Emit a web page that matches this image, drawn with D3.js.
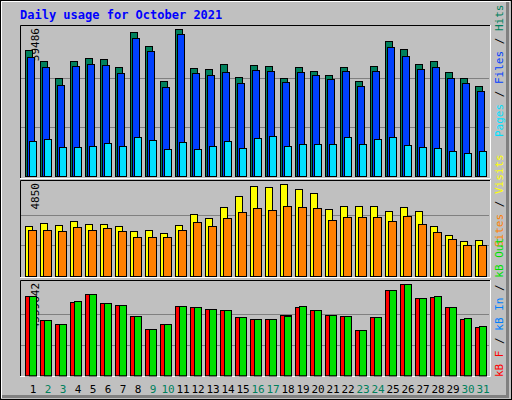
<!DOCTYPE html>
<html><head><meta charset="utf-8">
<script src="https://cdn.jsdelivr.net/npm/d3@7"></script>
<style>body{margin:0;background:#fff}text{font-family:"DejaVu Sans Mono",monospace}</style>
</head><body><svg id="chart"></svg>
<script>
// Values
var days = d3.range(1, 32);
var weekends = [2,3,9,10,16,17,23,24,30,31];
var hits = [50990,46540,39660,46540,47750,47350,44110,58280,52610,38450,59486,43710,43300,45330,40070,44920,44520,39660,44110,42490,40870,44110,38450,44520,54630,51400,45330,46540,42090,39660,36420];
var files = [48160,44110,36830,44520,45330,44920,41680,55850,50590,36020,57470,41680,40870,42090,37640,42900,42490,38040,42090,40870,39260,42490,36420,42490,52210,48560,43300,44110,39660,37640,34400];
var pages = [14160,14970,11740,11740,12140,13360,12140,15780,14570,10930,13760,10930,12140,14160,11330,15380,16190,12140,12950,12950,12950,15780,12950,14970,15780,12550,11740,11330,10120,9310,10120];
var visits = [2628,2787,2681,2893,2734,2734,2628,2364,2417,2258,2681,3263,3052,3634,4216,4745,4692,4850,4586,4374,3528,3687,3687,3687,3422,3634,3422,2628,2152,1834,1887];
var sites = [2417,2417,2364,2575,2417,2522,2364,2046,2046,2046,2417,2840,2628,3052,3369,3581,3475,3687,3634,3581,2946,3105,3105,3105,2893,3158,2734,2311,1940,1623,1623];
var kbF = [3943900,2745800,2546100,3644400,4043800,3594500,3494600,2945500,2296500,2546100,3444700,3394800,3294900,3245000,2895500,2795700,2795700,2995400,3394800,3245000,2995400,2945500,2246500,2895500,4243500,4559642,3844100,3894000,3394800,2795700,2396300];
var kbOut = [3943900,2745800,2546100,3694300,4043800,3594500,3494600,2945500,2296500,2546100,3444700,3394800,3294900,3245000,2895500,2795700,2795700,2945500,3444700,3245000,2995400,2945500,2246500,2895500,4243500,4559642,3844100,3943900,3394800,2845600,2446200];
var maxLabels = ["59486", "4850", "4559642"];

var W = 512, H = 400;
var svg = d3.select("#chart").attr("width", W).attr("height", H);

// frame
svg.append("rect").attr("x",0).attr("y",0).attr("width",W).attr("height",H).attr("fill","#c0c0c0");
svg.append("rect").attr("x",0.5).attr("y",0.5).attr("width",W-1).attr("height",H-1).attr("fill","none").attr("stroke","#000");
svg.append("path").attr("d","M1.5,398V1.5H510").attr("stroke","#fff").attr("fill","none");
svg.append("path").attr("d","M2,396.5H507.5V2").attr("stroke","#808080").attr("stroke-width",3).attr("fill","none");

svg.append("text").attr("x",20).attr("y",19).attr("fill","#0000ff")
  .style("font-size","12px").style("font-weight","bold").text("Daily usage for October 2021");

var x = d3.scaleLinear().domain([1,31]).range([25,475]);

var panels = [
  {top:25, bottom:179, base:176, y:d3.scaleLinear().domain([0,59486]).range([176,29]), max:59486},
  {top:180, bottom:278, base:276, y:d3.scaleLinear().domain([0,4850]).range([276,184.3]), max:4850},
  {top:280, bottom:377, base:375.3, y:d3.scaleLinear().domain([0,4559642]).range([375.3,284]), max:4559642}
];

panels.forEach(function(p, i){
  svg.append("rect").attr("x",20).attr("y",p.top).attr("width",470).attr("height",p.bottom-p.top).attr("fill","#c0c0c0");
  [1,2].forEach(function(k){
    var gy = Math.round(p.y(p.max*k/3)) + 0.5;
    svg.append("line").attr("x1",21).attr("x2",489).attr("y1",gy).attr("y2",gy).attr("stroke","#808080");
  });
  svg.append("path").attr("d","M20.5,"+p.bottom+"V"+(p.top+0.5)+"H490").attr("stroke","#000").attr("fill","none");
  svg.append("path").attr("d","M20,"+(p.bottom-0.5)+"H490.5V"+p.top).attr("stroke","#fff").attr("fill","none");
  svg.append("text").attr("transform","translate(39,"+(p.top+3)+") rotate(-90)")
    .attr("text-anchor","end").style("font-size","11px").attr("fill","#000").text(maxLabels[i]);
});

function bars(data, p, dx, w, color){
  svg.append("g").selectAll("rect").data(data).enter().append("rect")
    .attr("x", function(d,i){ return x(days[i]) + dx + 0.5; })
    .attr("y", function(d){ return Math.round(p.y(d)) + 0.5; })
    .attr("width", w)
    .attr("height", function(d){ return p.base - Math.round(p.y(d)); })
    .attr("fill", color).attr("stroke","#000");
}
bars(hits, panels[0], 0, 7, "#00805c");
bars(files, panels[0], 2, 7, "#0040ff");
bars(pages, panels[0], 4, 7, "#00e0ff");
bars(visits, panels[1], 0, 7, "#ffff00");
bars(sites, panels[1], 3, 8, "#ff8000");
bars(kbF, panels[2], 0, 11, "#ff0000");
bars(kbOut, panels[2], 4, 7, "#00e000");

// day labels
svg.append("g").selectAll("text").data(days).enter().append("text")
  .attr("x", function(d){ return x(d) + 8; }).attr("y", 393)
  .attr("text-anchor","middle").style("font-size","11px")
  .attr("fill", function(d){ return weekends.indexOf(d) >= 0 ? "#00805c" : "#000"; })
  .text(function(d){ return d; });

// right side legends
function legend(y, parts){
  var t = svg.append("text").attr("transform","translate(503,"+y+") rotate(-90)").style("font-size","11px");
  parts.forEach(function(s){ t.append("tspan").attr("fill", s[1]).text(s[0]); });
}
legend(137, [["Pages","#00e0ff"],[" / ","#000"],["Files","#0040ff"],[" / ","#000"],["Hits","#00805c"]]);
legend(247, [["Sites","#ff8000"],[" / ","#000"],["Visits","#ffff00"]]);
legend(377, [["kB F","#ff0000"],[" / ","#000"],["kB In","#0080ff"],[" / ","#000"],["kB Out","#00e000"]]);
</script></body></html>
